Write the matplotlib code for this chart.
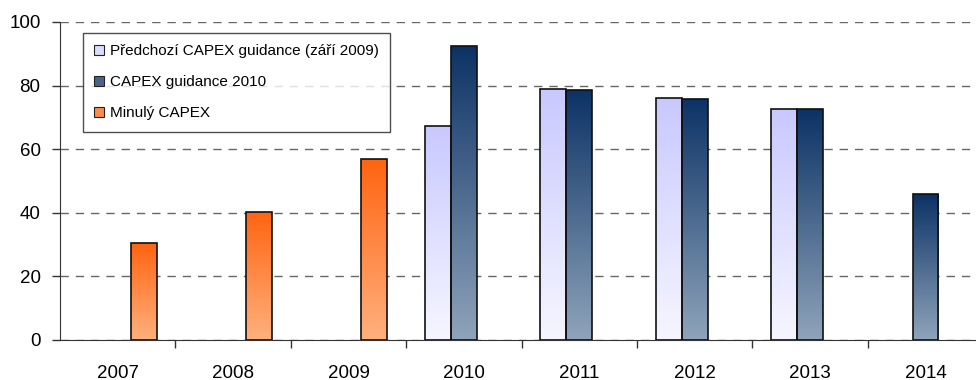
import matplotlib.pyplot as plt
import numpy as np
from matplotlib.colors import LinearSegmentedColormap
from matplotlib.patches import Patch

plt.rcParams['font.family'] = ['Liberation Sans', 'DejaVu Sans']

# data
years = ['2007', '2008', '2009', '2010', '2011', '2012', '2013', '2014']
predchozi = [np.nan, np.nan, np.nan, 67.3, 79.0, 76.2, 72.7, np.nan]
guidance_2010 = [np.nan, np.nan, np.nan, 92.5, 78.6, 75.8, 72.6, 45.8]
minuly = [30.4, 40.3, 56.9, np.nan, np.nan, np.nan, np.nan, np.nan]

series_names = ['Předchozí CAPEX guidance (září 2009)', 'CAPEX guidance 2010', 'Minulý CAPEX']
# gradient colours (top, bottom)
grads = [('#c8c8ff', '#f6f6ff'), ('#0c3265', '#8fa4bb'), ('#ff6410', '#ffb07e')]

fig = plt.figure(figsize=(9.76, 3.8), dpi=100)
ax = fig.add_axes([60 / 976, 1 - 340 / 380, 1 - 60 / 976, (340 - 22) / 380])

x = np.arange(len(years))
w = 0.225
offsets = [-w, 0, w]

for vals, off, (ctop, cbot) in zip([predchozi, guidance_2010, minuly], offsets, grads):
    cmap = LinearSegmentedColormap.from_list('g', [cbot, ctop])
    bars = ax.bar(x + off, vals, w, facecolor='none', edgecolor='#111111', linewidth=1.2, zorder=3)
    for b in bars:
        h = b.get_height()
        if not np.isfinite(h) or h == 0:
            continue
        x0 = b.get_x()
        grad = np.linspace(0, 1, 256).reshape(-1, 1)
        im = ax.imshow(grad, cmap=cmap, origin='lower', aspect='auto',
                       extent=[x0, x0 + w, 0, h], zorder=2)
        im.set_clip_path(b)

ax.set_xlim(-0.5, -0.5 + (976 - 60) / 115.4)
ax.set_ylim(0, 100)
ax.set_yticks([0, 20, 40, 60, 80, 100])
ax.set_xticks(x)
ax.set_xticklabels(years)
ax.set_xticks(x[:-1] + 0.5, minor=True)
ax.tick_params(axis='x', which='major', length=0, pad=18, labelsize=13.5)
ax.tick_params(axis='x', which='minor', length=6, width=1, color='#333333')
ax.tick_params(axis='y', length=6, width=1, pad=8, labelsize=13.5, color='#333333')

ax.yaxis.grid(True, linestyle=(0, (6, 5)), color='#666666', linewidth=1, zorder=1)
ax.set_axisbelow(True)
for s in ['top', 'right']:
    ax.spines[s].set_visible(False)
ax.spines['left'].set_color('#333333')
ax.spines['bottom'].set_color('#333333')

handles = [Patch(facecolor=c, edgecolor='#222222', linewidth=0.8)
           for c in ['#dcdcff', '#4a6285', '#ff8a4a']]
leg = ax.legend(handles, series_names, loc='upper left',
                bbox_to_anchor=((83 - 60) / 916, (340 - 33) / 318),
                fontsize=11, frameon=True, fancybox=False, edgecolor='#222222',
                handlelength=0.6, handleheight=0.6, handletextpad=0.4,
                labelspacing=1.1, borderpad=0.75, borderaxespad=0)
leg.get_frame().set_linewidth(1)
leg.set_zorder(5)

fig.savefig('out.png', dpi=100)
